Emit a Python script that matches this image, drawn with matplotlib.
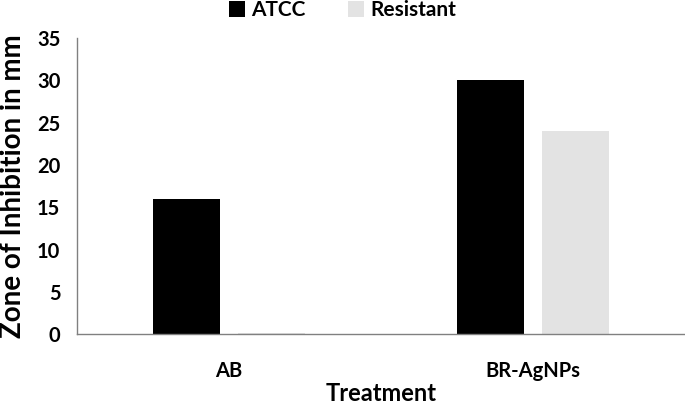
import matplotlib
matplotlib.use("Agg")
import matplotlib.pyplot as plt
import numpy as np

categories = ["AB", "BR-AgNPs"]
series_names = ["ATCC", "Resistant"]
atcc = [16, 30]
resistant = [0.1, 24]
y_ticks = [0, 5, 10, 15, 20, 25, 30, 35]

plt.rcParams['font.family'] = ['Lato', 'DejaVu Sans']

fig = plt.figure(figsize=(6.85, 4.07), dpi=100)
ax = fig.add_axes([0.1124, 0.179, 0.8876, 0.7276])

x = np.arange(len(categories))
w = 0.22
off = 0.14
ax.bar(x - off, atcc, w, color="#000000", label=series_names[0])
ax.bar(x + off, resistant, w, color="#e3e3e3", label=series_names[1])

ax.set_xlim(-0.5, 1.5)
ax.set_ylim(0, 35)
ax.set_yticks(y_ticks)
ax.set_xticks(x)
ax.set_xticklabels(categories)
ax.tick_params(axis='y', length=0, labelsize=14.5, pad=12)
ax.tick_params(axis='x', length=0, labelsize=14.5, pad=19)
for lab in ax.get_xticklabels() + ax.get_yticklabels():
    lab.set_fontweight('bold')

for s in ['top', 'right']:
    ax.spines[s].set_visible(False)
for s in ['left', 'bottom']:
    ax.spines[s].set_color('#808080')
    ax.spines[s].set_linewidth(1.0)

ax.set_xlabel("Treatment", fontsize=17, fontweight='bold', labelpad=1)
ax.set_ylabel("Zone of Inhibition in mm", fontsize=20, fontweight='bold', labelpad=8)

fig.legend(loc='upper center', bbox_to_anchor=(0.5, 1.045), ncol=2, frameon=False,
           handlelength=0.8, handleheight=0.8, handletextpad=0.3,
           columnspacing=2.0, prop={'weight': 'bold', 'size': 15})

fig.savefig("out.png", dpi=100)
